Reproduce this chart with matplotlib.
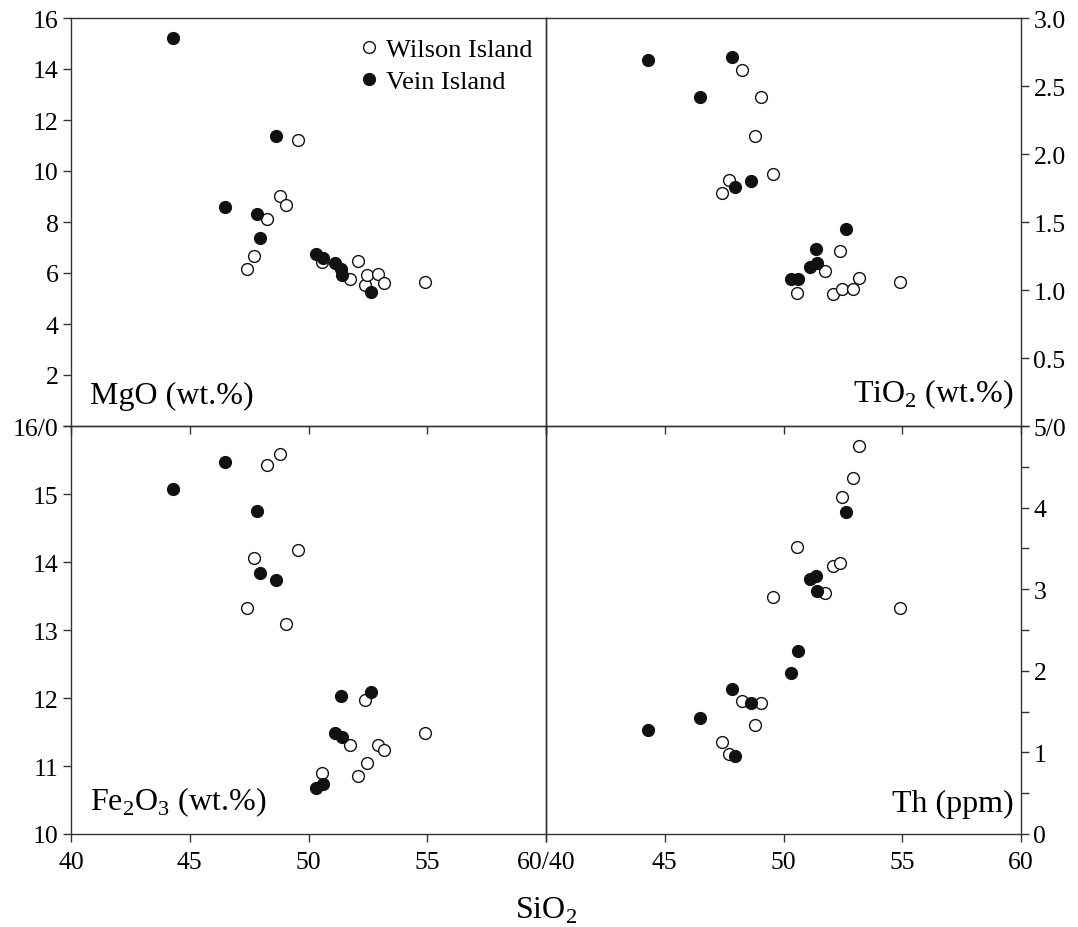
import matplotlib
matplotlib.use("Agg")
import matplotlib.pyplot as plt
import numpy as np

plt.rcParams['font.family'] = ['Liberation Serif', 'DejaVu Serif']
plt.rcParams['mathtext.fontset'] = 'custom'
plt.rcParams['mathtext.rm'] = 'Liberation Serif'

# Vein Island (filled)
vein_sio2 = [44.3, 46.48, 47.82, 47.95, 48.64, 50.31, 50.62, 51.13, 51.38, 51.40, 52.62]
vein_mgo = [15.20, 8.58, 8.30, 7.39, 11.36, 6.76, 6.59, 6.39, 6.16, 5.92, 5.25]
vein_tio2 = [2.69, 2.42, 2.71, 1.76, 1.80, 1.08, 1.08, 1.17, 1.30, 1.20, 1.45]
vein_fe2o3 = [15.07, 15.47, 14.75, 13.84, 13.74, 10.68, 10.73, 11.48, 12.03, 11.43, 12.09]
vein_th = [1.27, 1.42, 1.78, 0.95, 1.61, 1.97, 2.24, 3.12, 3.16, 2.98, 3.94]

# Wilson Island (open)
wil_sio2 = [47.40, 47.71, 48.25, 48.78, 49.07, 49.55, 50.55, 51.75, 52.07, 52.38, 52.45, 52.94, 53.19, 54.89]
wil_mgo = [6.14, 6.67, 8.12, 9.01, 8.67, 11.23, 6.42, 5.76, 6.48, 5.54, 5.93, 5.97, 5.59, 5.63]
wil_tio2 = [1.71, 1.81, 2.62, 2.13, 2.42, 1.85, 0.98, 1.14, 0.97, 1.29, 1.01, 1.01, 1.09, 1.06]
wil_fe2o3 = [13.32, 14.06, 15.43, 15.59, 13.09, 14.17, 10.89, 11.31, 10.85, 11.97, 11.04, 11.31, 11.23, 11.48]
wil_th = [1.13, 0.98, 1.63, 1.33, 1.60, 2.91, 3.52, 2.95, 3.29, 3.32, 4.13, 4.36, 4.75, 2.77]

fig = plt.figure(figsize=(10.78, 9.28), dpi=100)
L, W = 71 / 1078, 475 / 1078
H = 408 / 928
B0 = 93 / 928
ax_mg = fig.add_axes([L, B0 + H, W, H], facecolor='none')
ax_ti = fig.add_axes([L + W, B0 + H, W, H], facecolor='none')
ax_fe = fig.add_axes([L, B0, W, H], facecolor='none')
ax_th = fig.add_axes([L + W, B0, W, H], facecolor='none')

spine_col = '#333333'
ms = 8.5


def draw(ax, yw, yv):
    ax.plot(wil_sio2, yw, 'o', ms=ms, mfc='white', mec='#111111', mew=1.0, ls='none',
            label='Wilson Island')
    ax.plot(vein_sio2, yv, 'o', ms=ms, mfc='#111111', mec='#111111', mew=1.0, ls='none',
            label='Vein Island')
    ax.set_xlim(40, 60)
    for s in ax.spines.values():
        s.set_color(spine_col)
        s.set_linewidth(1.0)
    ax.tick_params(direction='out', length=6, width=1.0, color=spine_col,
                   labelsize=18.5, pad=3)
    ax.tick_params(axis='x', pad=6)


draw(ax_mg, wil_mgo, vein_mgo)
draw(ax_ti, wil_tio2, vein_tio2)
draw(ax_fe, wil_fe2o3, vein_fe2o3)
draw(ax_th, wil_th, vein_th)

xt = [40, 45, 50, 55, 60]
for ax in (ax_mg, ax_ti):
    ax.set_xticks(xt)
    ax.tick_params(axis='x', labelbottom=False)
ax_fe.set_xticks(xt)
ax_fe.set_xticklabels(['40', '45', '50', '55', '60/40'])
ax_th.set_xticks(xt)
ax_th.set_xticklabels(['', '45', '50', '55', '60'])

ax_mg.set_ylim(0, 16)
ax_mg.set_yticks(np.arange(0, 17, 2))
ax_mg.set_yticklabels([''] + [str(v) for v in range(2, 17, 2)])
ax_fe.set_ylim(10, 16)
ax_fe.set_yticks(range(10, 17))
ax_fe.set_yticklabels(['10', '11', '12', '13', '14', '15', '16/0'])

for ax in (ax_ti, ax_th):
    ax.yaxis.tick_right()
    ax.tick_params(axis='y', left=False, right=True)
ax_ti.set_ylim(0, 3)
ax_ti.set_yticks(np.arange(0, 3.01, 0.5))
ax_ti.set_yticklabels(['', '0.5', '1.0', '1.5', '2.0', '2.5', '3.0'])
ax_th.set_ylim(0, 5)
ax_th.set_yticks(range(0, 6))
ax_th.set_yticklabels(['0', '1', '2', '3', '4', '5/0'])
ax_th.set_yticks(np.arange(0.5, 5, 1.0), minor=True)
ax_th.tick_params(axis='y', which='minor', direction='out', length=6, width=1.0,
                  color=spine_col, left=False, right=True)

lab = dict(fontsize=23)
ax_mg.text(0.04, 0.04, 'MgO (wt.%)', transform=ax_mg.transAxes, ha='left', va='bottom', **lab)
ax_ti.text(0.985, 0.04, r'TiO$_\mathregular{2}$ (wt.%)', transform=ax_ti.transAxes,
           ha='right', va='bottom', **lab)
ax_fe.text(0.04, 0.04, r'Fe$_\mathregular{2}$O$_\mathregular{3}$ (wt.%)', transform=ax_fe.transAxes,
           ha='left', va='bottom', **lab)
ax_th.text(0.985, 0.04, 'Th (ppm)', transform=ax_th.transAxes, ha='right', va='bottom', **lab)

ax_mg.legend(loc='upper right', frameon=False, fontsize=19, handletextpad=0.15,
             borderaxespad=0.25, labelspacing=0.3, handlelength=1.0,
             bbox_to_anchor=(1.008, 0.993))

fig.text(546 / 1078, 1 - 919 / 928, r'SiO$_\mathregular{2}$', ha='center', va='baseline', fontsize=23)

fig.savefig('out.png', dpi=100)
